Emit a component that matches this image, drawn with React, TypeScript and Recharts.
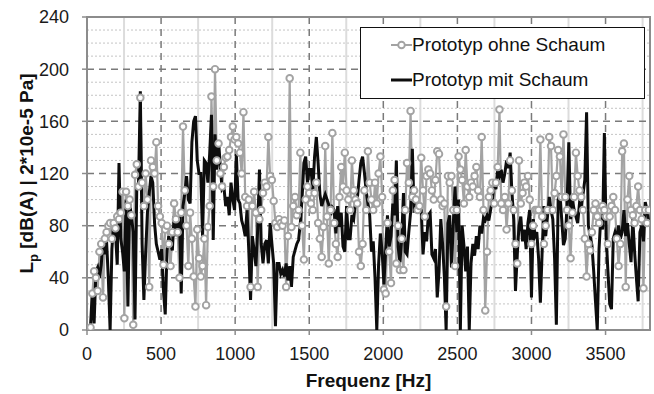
import React from 'react';
import { LineChart, Line, XAxis, YAxis, CartesianGrid, Legend, ReferenceArea } from 'recharts';

const FONT = '"Liberation Sans", Arial, Helvetica, sans-serif';

// Frequency bins (Hz): regular 12 Hz spacing starting at 24 Hz
const FREQ_START_HZ = 24;
const FREQ_STEP_HZ = 12;

// Prototyp ohne Schaum (grey, markers)
const OHNE_SCHAUM: number[] = [
  2, 28, 45, 40, 30, 60, 66, 25, 70, 75,
  80, 82, 70, 82, 78, 87, 85, 90, 106, 9,
  106, 95, 100, 88, 4, 119, 127, 110, 178, 113,
  95, 120, 100, 33, 130, 125, 120, 144, 95, 87,
  82, 50, 77, 80, 66, 49, 75, 97, 85, 75,
  40, 90, 156, 107, 80, 49, 90, 70, 41, 18,
  77, 55,
  41, 49, 70, 19, 79, 95, 179, 110, 200, 130,
  143, 120, 110, 125, 132, 133, 138, 148, 156, 146,
  148, 143, 136, 120, 167, 102, 95, 100, 33, 95,
  106, 90, 33, 85, 92, 105, 113, 110, 148, 118,
  115, 99, 82, 79, 85, 82, 80, 84, 33, 72,
  193, 79, 95, 102, 88, 92, 136, 80, 54, 100,
  110, 105,
  97, 92, 105, 113, 82, 70, 56, 79, 141, 87,
  51, 92, 151, 82, 66, 56, 102, 125, 110, 136,
  107, 100, 92, 130, 107, 100, 97, 60, 49, 66,
  107, 92, 137, 113, 100, 92, 113, 97, 120, 133,
  102, 31, 28, 82, 60, 36, 107, 115, 51, 80,
  46, 70, 46, 92, 128, 113, 168, 102, 107, 100,
  92, 95,
  132, 107, 87, 118, 123, 120, 107, 100, 115, 137,
  135, 100, 95, 97, 18, 118, 113, 118, 92, 49,
  92, 133, 123, 115, 97, 138, 110, 102, 113, 110,
  118, 125, 107, 102, 148, 92, 15, 60, 102, 107,
  113, 97, 113, 125, 169, 97, 92, 102, 77, 97,
  130, 107, 92, 66, 51, 130, 97, 105, 113, 110,
  118, 100,
  66, 80, 92, 92, 92, 146, 87, 66, 80, 92,
  148, 141, 92, 105, 118, 138, 133, 102, 150, 102,
  92, 80, 55, 90, 102, 136, 118, 107, 102, 92,
  70, 41, 66, 61, 75, 92, 97, 87, 82, 92,
  95, 92, 87, 66, 87, 95, 102, 92, 70, 49,
  66, 137, 143, 33, 100, 118, 92, 88, 82, 95,
  110, 92, 85, 32, 92, 82, 92,
];

// Prototyp mit Schaum (black line)
const MIT_SCHAUM: number[] = [
  3, 30, 5, 45, 48, 40, 50, 68, 58, 68,
  40, 0, 62, 82, 75, 50, 128, 70, 60, 45,
  100, 18, 97, 87, 75, 8, 110, 113, 183, 66,
  23, 60, 90, 105, 118, 113, 82, 66, 60, 54,
  62, 30, 12, 61, 72, 66, 61, 87, 72, 82,
  87, 28, 95, 105, 118, 100, 97, 144, 160, 164,
  130, 120,
  120, 72, 130, 128, 113, 135, 165, 69, 150, 123,
  145, 125, 108, 110, 95, 102, 88, 113, 100, 92,
  135, 100, 97, 84, 79, 72, 92, 61, 23, 72,
  61, 49, 77, 123, 66, 51, 66, 69, 51, 82,
  66, 51, 3, 51, 51, 43, 46, 41, 51, 38,
  49, 33, 56, 61, 66, 69, 82, 102, 128, 133,
  113, 123,
  123, 107, 133, 148, 128, 104, 95, 100, 104, 100,
  96, 88, 94, 92, 74, 95, 79, 90, 64, 60,
  95, 70, 70, 88, 85, 98, 100, 115, 128, 133,
  121, 107, 97, 88, 60, 68, 40, 0, 50, 74,
  60, 35, 62, 88, 64, 72, 97, 88, 130, 64,
  52, 70, 105, 60, 58, 75, 90, 139, 90, 100,
  97, 95,
  92, 58, 75, 68, 88, 90, 58, 55, 62, 25,
  45, 85, 66, 41, 0, 82, 88, 48, 80, 110,
  75, 100, 0, 80, 65, 45, 64, 0, 51, 66,
  57, 72, 62, 80, 74, 86, 84, 88, 84, 92,
  100, 112, 108, 122, 118, 123, 113, 120, 130, 124,
  136, 105, 85, 30, 58, 80, 87, 68, 77, 62,
  82, 92,
  25, 85, 72, 75, 55, 21, 60, 95, 72, 87,
  102, 92, 85, 55, 4, 100, 105, 85, 65, 70,
  95, 144, 85, 100, 92, 87, 82, 97, 94, 104,
  115, 167, 80, 72, 65, 45, 22, 0, 62, 87,
  77, 151, 72, 45, 20, 16, 70, 75, 70, 80,
  70, 75, 92, 72, 82, 66, 52, 85, 60, 40,
  22, 75, 80, 68, 98, 92, 82,
];

const X_TICKS = [0, 500, 1000, 1500, 2000, 2500, 3000, 3500];
const X_MINOR = [250, 750, 1250, 1750, 2250, 2750, 3250, 3750];
const Y_TICKS = [0, 40, 80, 120, 160, 200, 240];
const Y_MAJOR_GRID = [40, 80, 120, 160, 200];
const Y_MINOR = [10, 20, 30, 50, 60, 70, 90, 100, 110, 130, 140, 150, 170, 180, 190, 210, 220, 230];

const SERIES = [
  { key: 'ohne', name: 'Prototyp ohne Schaum', color: '#a3a3a3', marker: true },
  { key: 'mit', name: 'Prototyp mit Schaum', color: '#0d0d0d', marker: false },
];

const DATA = OHNE_SCHAUM.map((v, i) => ({
  f: FREQ_START_HZ + i * FREQ_STEP_HZ,
  ohne: v,
  mit: MIT_SCHAUM[i],
}));

function YLabel(props: any) {
  const vb = props.viewBox || { x: 0, y: 17, width: 87, height: 313 };
  const cx = vb.x + 33;
  const cy = vb.y + vb.height / 2;
  return (
    <text
      x={cx}
      y={cy}
      transform={`rotate(-90, ${cx}, ${cy})`}
      textAnchor="middle"
      fontFamily={FONT}
      fontSize={19}
      fontWeight="bold"
      fill="#111"
    >
      <tspan>L</tspan>
      <tspan fontSize={13} dy={5}>p</tspan>
      <tspan dy={-5}> [dB(A) | 2*10e-5 Pa]</tspan>
    </text>
  );
}

const renderLegend = () => (
  <div
    style={{
      width: 285,
      height: 72,
      boxSizing: 'border-box',
      border: '1.5px solid #111',
      background: '#fff',
      fontFamily: FONT,
      fontSize: 19,
      color: '#111',
      position: 'relative',
    }}
  >
    {SERIES.map((s, i) => (
      <div
        key={s.key}
        style={{
          position: 'absolute',
          left: 30,
          top: i === 0 ? 4 : 39,
          height: 26,
          display: 'flex',
          alignItems: 'center',
          whiteSpace: 'nowrap',
        }}
      >
        <svg width={21} height={26} style={{ display: 'block' }}>
          <line x1={0} x2={21} y1={13} y2={13} stroke={s.color} strokeWidth={s.marker ? 2 : 3} />
          {s.marker && <circle cx={10.5} cy={13} r={3.3} fill="#fff" stroke={s.color} strokeWidth={1.9} />}
        </svg>
        <span>{s.name}</span>
      </div>
    ))}
  </div>
);

export default function App() {
  const tickStyle = { fill: '#1a1a1a', fontSize: 18, fontFamily: FONT };
  return (
    <div style={{ position: 'absolute', left: 0, top: 0, background: '#fff' }}>
      <LineChart width={654} height={394} data={DATA} margin={{ top: 17, right: 4, bottom: 0, left: 0 }}>
        <CartesianGrid vertical={false} horizontalValues={Y_MINOR} stroke="#c4c4c4" strokeDasharray="2 2" strokeWidth={1} />
        <CartesianGrid horizontal={false} verticalValues={X_MINOR} stroke="#dcdcdc" strokeWidth={2} />
        <CartesianGrid
          horizontalValues={Y_MAJOR_GRID}
          verticalValues={X_TICKS.slice(1)}
          stroke="#7a7a7a"
          strokeDasharray="7 5"
          strokeWidth={1.5}
        />
        <XAxis
          dataKey="f"
          type="number"
          domain={[0, 3800]}
          ticks={X_TICKS}
          interval={0}
          allowDataOverflow
          height={64}
          tickSize={5}
          tickMargin={12}
          tick={tickStyle}
          stroke="#8c8c8c"
          axisLine={false}
          tickLine={{ stroke: '#8c8c8c', strokeWidth: 1.5 }}
          label={{
            value: 'Frequenz [Hz]',
            position: 'insideBottom',
            offset: 7,
            style: { fill: '#111', fontSize: 19, fontWeight: 'bold', fontFamily: FONT },
          }}
        />
        <YAxis
          type="number"
          domain={[0, 240]}
          ticks={Y_TICKS}
          interval={0}
          allowDataOverflow
          width={87}
          tickSize={5}
          tickMargin={13}
          tick={tickStyle}
          axisLine={false}
          tickLine={{ stroke: '#8c8c8c', strokeWidth: 1.5 }}
          label={<YLabel />}
        />
        <ReferenceArea x1={0} x2={3800} y1={0} y2={240} fill="none" stroke="#8c8c8c" strokeWidth={2} fillOpacity={0} />
        <Line
          dataKey="ohne"
          name={SERIES[0].name}
          stroke={SERIES[0].color}
          strokeWidth={2.2}
          dot={{ r: 3.3, stroke: SERIES[0].color, strokeWidth: 1.9, fill: '#fff' }}
          isAnimationActive={false}
        />
        <Line
          dataKey="mit"
          name={SERIES[1].name}
          stroke={SERIES[1].color}
          strokeWidth={3}
          dot={false}
          isAnimationActive={false}
        />
        <Legend
          layout="vertical"
          align="center"
          verticalAlign="middle"
          content={renderLegend}
          wrapperStyle={{ left: 360, top: 27, width: 285, height: 72 }}
        />
      </LineChart>
    </div>
  );
}
